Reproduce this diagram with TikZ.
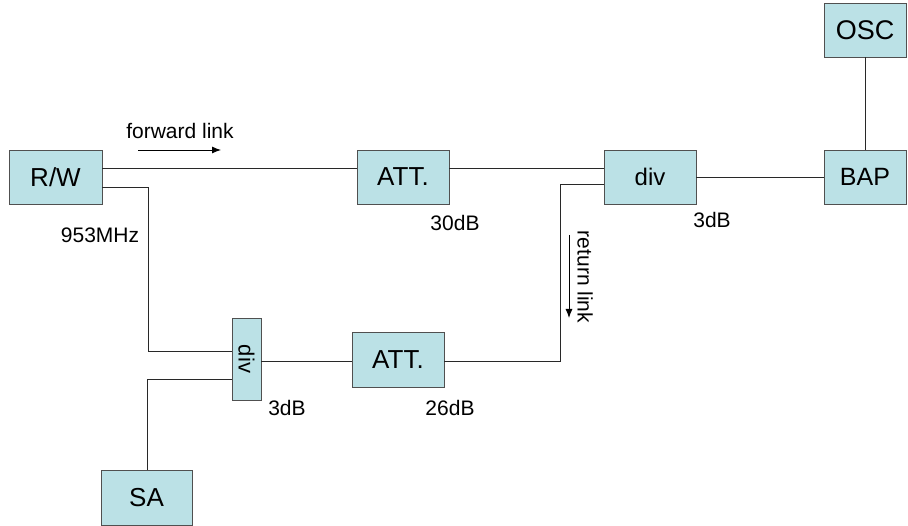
\documentclass[tikz,border=0pt]{standalone}
\usepackage{fontspec}
\setmainfont{Liberation Sans}
\usetikzlibrary{arrows.meta}
\definecolor{boxfill}{RGB}{187,225,230}
\definecolor{boxline}{RGB}{80,80,80}
\definecolor{wire}{RGB}{40,40,40}
\tikzset{
  blk/.style={draw=boxline, line width=0.9pt, fill=boxfill, inner sep=0pt, font=\fontsize{26}{28}\selectfont},
  wirel/.style={draw=wire, line width=0.9pt},
  lbl/.style={inner sep=0pt, font=\fontsize{21}{23}\selectfont},
  dirarrow/.style={draw=black, line width=0.9pt, -{Latex[length=9pt,width=7pt]}}
}
\begin{document}
\begin{tikzpicture}[x=1pt,y=-1pt]
\useasboundingbox (0,0) rectangle (908,526);
% blocks
\node[blk, minimum width=93pt, minimum height=54pt] (RW) at (55.5,177) {R/W};
\node[blk, minimum width=92pt, minimum height=54pt] (ATT1) at (403,177) {ATT.};
\node[blk, minimum width=92pt, minimum height=54pt, font=\fontsize{24}{26}\selectfont] (div1) at (650,177) {div};
\node[blk, minimum width=82pt, minimum height=54pt, font=\fontsize{25}{27}\selectfont] (BAP) at (865,177) {BAP};
\node[blk, minimum width=82pt, minimum height=54pt, font=\fontsize{27}{29}\selectfont] (OSC) at (865,30) {OSC};
\node[blk, minimum width=29pt, minimum height=82pt] (div2) at (246.5,359) {};
\node[rotate=-90, inner sep=0pt, font=\fontsize{22}{24}\selectfont] (div2t) at (div2.center) {div};
\node[blk, minimum width=92pt, minimum height=55pt] (ATT2) at (398,359.5) {ATT.};
\node[blk, minimum width=91pt, minimum height=55pt] (SA) at (146.5,497.5) {SA};
% helper coordinates
\coordinate (yf) at (0,168);
\coordinate (yr) at (0,187);
\coordinate (yd2a) at (0,351);
\coordinate (yd2b) at (0,379);
\coordinate (yd1b) at (0,184);
\coordinate (yb) at (0,361);
\coordinate (c1) at (148,351);
\coordinate (c2) at (560,361);
% connectors
\draw[wirel] (RW.east |- yf) -- (ATT1.west |- yf);
\draw[wirel] (ATT1.east |- yf) -- (div1.west |- yf);
\draw[wirel] (div1.east) -- (BAP.west);
\draw[wirel] (OSC.south) -- (BAP.north);
\draw[wirel] (RW.east |- yr) -| (c1) -- (div2.west |- yd2a);
\draw[wirel] (div1.west |- yd1b) -| (c2) -- (ATT2.east |- yb);
\draw[wirel] (ATT2.west |- yb) -- (div2.east |- yb);
\draw[wirel] ([xshift=0.5pt]SA.north) |- (div2.west |- yd2b);
% direction arrows
\coordinate (fa1) at (138,150);
\coordinate (fa2) at (221,150);
\draw[dirarrow] (fa1) -- (fa2);
\coordinate (ra1) at (569,235);
\coordinate (ra2) at (569,318);
\draw[dirarrow] (ra1) -- (ra2);
% labels
\node[lbl] (tfwd) at (180,131) {forward link};
\node[lbl, rotate=-90] (tret) at (585,277) {return link};
\node[lbl] (tmhz) at (100,235) {953MHz};
\node[lbl] (t30) at (455,223) {30dB};
\node[lbl] (t3a) at (712,220) {3dB};
\node[lbl] (t3b) at (287,408) {3dB};
\node[lbl] (t26) at (450,408) {26dB};
\end{tikzpicture}
\end{document}
